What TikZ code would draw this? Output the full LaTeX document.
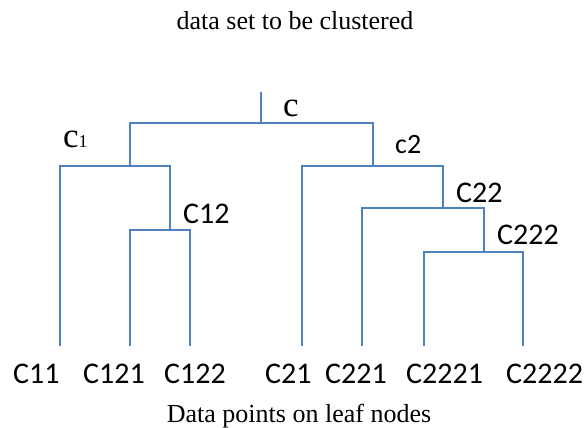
\documentclass[tikz,border=0pt]{standalone}
\usepackage{fontspec}
\setmainfont{Liberation Serif}
\newfontfamily\calibri{Carlito}
\definecolor{treeblue}{RGB}{79,129,189}

\begin{document}
\begin{tikzpicture}[x=1pt,y=-1pt]
\tikzstyle{branch}=[draw=treeblue, line width=1.3pt]
\tikzstyle{leaf}=[anchor=base west, inner sep=0pt, font=\calibri\fontsize{30}{36}\selectfont]
\tikzstyle{caption}=[anchor=base, inner sep=0pt, font=\fontsize{26}{31}\selectfont]

\useasboundingbox (0,0) rectangle (584,428);

% merge points
\coordinate (top)  at (261, 92);
\coordinate (c)    at (261,123);
\coordinate (c1)   at (130,166);
\coordinate (c12)  at (170,230);
\coordinate (c2)   at (373,166);
\coordinate (c22)  at (443,208);
\coordinate (c222) at (484,252);

% leaf ends
\coordinate (l11)   at ( 60,346);
\coordinate (l121)  at (130,346);
\coordinate (l122)  at (190,346);
\coordinate (l21)   at (302,346);
\coordinate (l221)  at (362,346);
\coordinate (l2221) at (424,346);
\coordinate (l2222) at (523,346);

\draw[branch] (top) -- (c);
\draw[branch] (c1) |- (c) -| (c2);
\draw[branch] (l11) |- (c1) -| (c12);
\draw[branch] (l121) |- (c12) -| (l122);
\draw[branch] (l21) |- (c2) -| (c22);
\draw[branch] (l221) |- (c22) -| (c222);
\draw[branch] (l2221) |- (c222) -| (l2222);

% cluster labels
\node[anchor=base west, inner sep=0pt, font=\fontsize{35}{40}\selectfont] (lc) at (283,116) {c};
\node[anchor=base west, inner sep=0pt, font=\fontsize{35}{40}\selectfont] (lc1) at (63,147) {c{\fontsize{18}{20}\selectfont 1}};
\node[leaf, font=\calibri\fontsize{28}{34}\selectfont] (lc2) at (395,153) {c2};
\node[leaf] (lc12)  at (183,223) {C12};
\node[leaf] (lc22)  at (456,202) {C22};
\node[leaf] (lc222) at (497,244) {C222};

% leaf labels
\node[leaf] (n11)   at ( 13,383) {C11};
\node[leaf] (n121)  at ( 83,383) {C121};
\node[leaf] (n122)  at (164,383) {C122};
\node[leaf] (n21)   at (265,383) {C21};
\node[leaf] (n221)  at (325,383) {C221};
\node[leaf] (n2221) at (406,383) {C2221};
\node[leaf] (n2222) at (506,383) {C2222};

\node[caption] (title) at (295,30) {data set to be clustered};
\node[caption] (foot)  at (299,422) {Data points on leaf nodes};
\end{tikzpicture}
\end{document}
